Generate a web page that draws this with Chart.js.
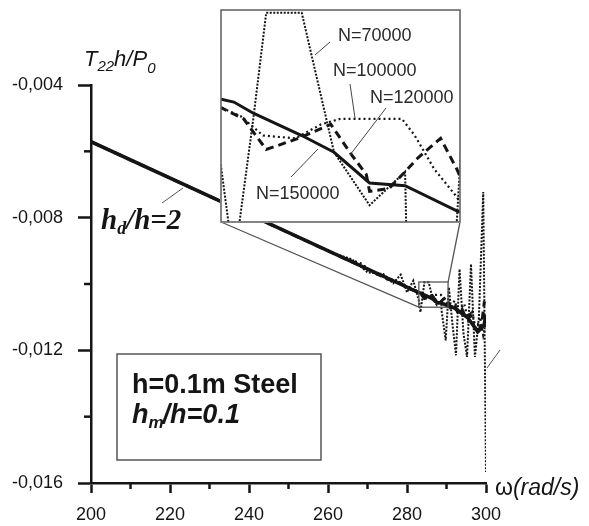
<!DOCTYPE html>
<html>
<head>
<meta charset="utf-8">
<script src="https://cdn.jsdelivr.net/npm/chart.js@4.4.0/dist/chart.umd.min.js"></script>
<style>
  html, body { margin: 0; padding: 0; background: #fff; }
  #wrap { position: relative; width: 589px; height: 526px; }
  #main { position: absolute; left: 0; top: 0; }
  #inset { position: absolute; left: 220px; top: 9px; background: #fff; }
</style>
</head>
<body>
<div id="wrap">
  <canvas id="main" width="589" height="526"></canvas>
  <canvas id="inset" width="241" height="214"></canvas>
</div>
<script>
  // axis ticks
  var xTicks = [200, 220, 240, 260, 280, 300];
  var xMinorTicks = [210, 230, 250, 270, 290];
  var yTicks = [-0.016, -0.012, -0.008, -0.004];
  var yMinorTicks = [-0.014, -0.010, -0.006];

  // zoomed window shown in the inset
  var insetOmega = [283, 290.4];
  var insetT = [-0.0107, -0.00994];

  // N=150000 (solid)
  var omega150 = [200, 240, 283, 283.4, 284, 284.75, 285.5, 286.5, 287.6, 288.7, 290.3, 291.9, 295.4, 297.9, 299.5, 300];
  var t150 = [-0.00571, -0.00790, -0.01026, -0.01027, -0.01031, -0.01035, -0.01039, -0.01045, -0.01056, -0.01057,
              -0.01066, -0.01072, -0.01102, -0.01144, -0.01124, -0.01093];

  // N=120000 (dashed)
  var omega120 = [200, 270, 275, 278, 280, 282, 283, 283.7, 284.4, 285.4, 286.4, 287.05, 287.5, 287.6, 288.2, 288.7,
                  289.1, 289.8, 290.3, 291, 292, 293, 294, 295, 296, 297, 298, 299, 299.6];
  var t120 = [-0.00571, -0.00955, -0.00985, -0.00995, -0.01012, -0.01020, -0.01029, -0.01033, -0.01044, -0.01040,
              -0.01035, -0.01046, -0.01053, -0.01059, -0.01058, -0.01052, -0.01047, -0.01040, -0.01051, -0.01070,
              -0.01060, -0.01090, -0.01078, -0.01105, -0.01092, -0.01128, -0.01148, -0.01112, -0.01052];

  // N=100000 (fine dots)
  var omega100 = [200, 265, 268, 272, 276, 279, 281, 283, 283.6, 284.3, 285.3, 286.1, 286.7, 288.6, 289, 289.6,
                  290.3, 291, 292, 293, 294.5, 295.5, 296.5, 297.5, 298.5, 299.3, 300];
  var t100 = [-0.00571, -0.00927, -0.00935, -0.00970, -0.00985, -0.01000, -0.01016, -0.01029, -0.01032, -0.01039,
              -0.01040, -0.01035, -0.01033, -0.01033, -0.01039, -0.01051, -0.01061, -0.01075, -0.01050, -0.01085,
              -0.01060, -0.01110, -0.01085, -0.01140, -0.01100, -0.01155, -0.01120];

  // N=70000 (dense dots)
  var omega70 = [200, 262, 266, 270, 274, 276.5, 278.4, 280, 281.6, 283, 283.4, 284, 284.4, 285.5, 286.5, 287.6,
                 288.7, 288.75, 289.8, 290.6, 291.5, 292.4, 293.3, 294.3, 295.2, 296.2, 297.2, 298.2, 299.3, 300];
  var t70 = [-0.00571, -0.00910, -0.00925, -0.00965, -0.00970, -0.00998, -0.00972, -0.01025, -0.00990, -0.01050,
             -0.01085, -0.01033, -0.00995, -0.00995, -0.01045, -0.01064, -0.01052, -0.01080, -0.01170, -0.01010,
             -0.01120, -0.01215, -0.00955, -0.01150, -0.01220, -0.00940, -0.01220, -0.01100, -0.00723, -0.01567];

  var SANS = '"Liberation Sans", Arial, sans-serif';
  var SERIF = '"Liberation Serif", "Times New Roman", serif';
  var INK = '#151515';

  function pts(xs, ys) {
    return xs.map(function (x, i) { return { x: x, y: ys[i] }; });
  }

  function makeDatasets(scale) {
    return [
      { label: 'N=150000', data: pts(omega150, t150), borderColor: INK, borderWidth: 3.5 * scale, borderDash: [] },
      { label: 'N=120000', data: pts(omega120, t120), borderColor: INK, borderWidth: 3, borderDash: [8, 5] },
      { label: 'N=100000', data: pts(omega100, t100), borderColor: INK, borderWidth: 2.2, borderDash: [2, 3] },
      { label: 'N=70000', data: pts(omega70, t70), borderColor: INK, borderWidth: 2, borderDash: [2, 1.5] }
    ].map(function (d) {
      d.showLine = true;
      d.pointRadius = 0;
      d.tension = 0;
      d.fill = false;
      return d;
    });
  }

  function richText(ctx, parts, x, y) {
    parts.forEach(function (p) {
      ctx.font = p.font;
      ctx.fillText(p.text, x, y + (p.dy || 0));
      x += ctx.measureText(p.text).width + (p.gap || 0);
    });
  }

  var mainDecor = {
    id: 'mainDecor',
    afterDraw: function (chart) {
      var ctx = chart.ctx, xs = chart.scales.x, ys = chart.scales.y;
      ctx.save();
      ctx.strokeStyle = INK;
      ctx.lineWidth = 2.5;
      xMinorTicks.forEach(function (v) {
        var px = xs.getPixelForValue(v);
        ctx.beginPath(); ctx.moveTo(px, ys.bottom); ctx.lineTo(px, ys.bottom + 6); ctx.stroke();
      });
      yMinorTicks.forEach(function (v) {
        var py = ys.getPixelForValue(v);
        ctx.beginPath(); ctx.moveTo(xs.left - 7, py); ctx.lineTo(xs.left + 1, py); ctx.stroke();
      });

      // zoom rectangle and connectors to the inset
      var rx0 = xs.getPixelForValue(insetOmega[0]), rx1 = xs.getPixelForValue(insetOmega[1]);
      var ry0 = ys.getPixelForValue(insetT[1]), ry1 = ys.getPixelForValue(insetT[0]);
      ctx.strokeStyle = '#555';
      ctx.lineWidth = 1.3;
      ctx.strokeRect(rx0, ry0, rx1 - rx0, ry1 - ry0);
      ctx.beginPath();
      ctx.moveTo(221, 222); ctx.lineTo(rx0, ry1);
      ctx.moveTo(460, 222); ctx.lineTo(rx1, ry0);
      ctx.stroke();

      // leader lines
      ctx.lineWidth = 1;
      ctx.beginPath();
      ctx.moveTo(162, 203); ctx.lineTo(183, 188);
      ctx.moveTo(487, 368); ctx.lineTo(500, 350);
      ctx.stroke();

      ctx.fillStyle = INK;
      ctx.textBaseline = 'alphabetic';
      ctx.textAlign = 'left';

      // y title
      richText(ctx, [
        { text: 'T', font: 'italic 22px ' + SANS },
        { text: '22', font: 'italic 15px ' + SANS, dy: 5 },
        { text: 'h/P', font: 'italic 22px ' + SANS },
        { text: '0', font: 'italic 15px ' + SANS, dy: 7 }
      ], 84, 66);

      // x title
      richText(ctx, [
        { text: '\u03c9', font: '23px ' + SANS },
        { text: '(rad/s)', font: 'italic 23px ' + SANS }
      ], 495, 495);

      // hd/h=2
      richText(ctx, [
        { text: 'h', font: 'italic bold 29px ' + SERIF },
        { text: 'd', font: 'italic bold 18px ' + SERIF, dy: 5 },
        { text: '/h=2', font: 'italic bold 29px ' + SERIF }
      ], 101, 229);

      // note box
      ctx.strokeStyle = '#555';
      ctx.lineWidth = 1.5;
      ctx.strokeRect(117, 354, 204, 106);
      ctx.font = 'bold 27px ' + SANS;
      ctx.fillText('h=0.1m Steel', 132, 393);
      richText(ctx, [
        { text: 'h', font: 'italic bold 27px ' + SANS },
        { text: 'm', font: 'italic bold 17px ' + SANS, dy: 5, gap: -1 },
        { text: '/h=0.1', font: 'italic bold 27px ' + SANS }
      ], 132, 423);
      ctx.restore();
    }
  };

  new Chart(document.getElementById('main').getContext('2d'), {
    type: 'scatter',
    data: { datasets: makeDatasets(1) },
    options: {
      responsive: false,
      animation: false,
      devicePixelRatio: 1,
      layout: { padding: { left: 0, top: 85, right: 103, bottom: 0 } },
      plugins: { legend: { display: false }, tooltip: { enabled: false } },
      scales: {
        x: {
          type: 'linear', min: 200, max: 300,
          afterFit: function (s) { s.height = 43; },
          afterBuildTicks: function (s) { s.ticks = xTicks.map(function (v) { return { value: v }; }); },
          border: { display: true, color: INK, width: 2.5 },
          grid: { drawOnChartArea: false, drawTicks: true, tickLength: 10, tickWidth: 2.5, tickColor: INK },
          ticks: { color: INK, padding: 11, maxRotation: 0, font: { family: SANS, size: 18 },
                   callback: function (v) { return String(v); } }
        },
        y: {
          type: 'linear', min: -0.016, max: -0.004,
          afterFit: function (s) { s.width = 91; },
          afterBuildTicks: function (s) { s.ticks = yTicks.map(function (v) { return { value: v }; }); },
          border: { display: true, color: INK, width: 2.5 },
          grid: { drawOnChartArea: false, drawTicks: true, tickLength: 13, tickWidth: 2.5, tickColor: INK },
          ticks: { color: INK, padding: 15, font: { family: SANS, size: 18 },
                   callback: function (v) { return v.toFixed(3).replace('.', ','); } }
        }
      }
    },
    plugins: [mainDecor]
  });

  var insetDecor = {
    id: 'insetDecor',
    afterDraw: function (chart) {
      var ctx = chart.ctx;
      ctx.save();
      ctx.strokeStyle = '#666';
      ctx.lineWidth = 1.6;
      ctx.strokeRect(1, 1, chart.width - 2, chart.height - 2);
      ctx.strokeStyle = '#444';
      ctx.lineWidth = 1;
      ctx.beginPath();
      ctx.moveTo(110, 33); ctx.lineTo(95, 46);
      ctx.moveTo(130, 75); ctx.lineTo(135, 109);
      ctx.moveTo(166, 99); ctx.lineTo(130, 146);
      ctx.moveTo(71, 168); ctx.lineTo(98, 140);
      ctx.stroke();
      ctx.fillStyle = '#2a2a2a';
      ctx.font = '18px ' + SANS;
      ctx.fillText('N=70000', 118, 32);
      ctx.fillText('N=100000', 113, 67);
      ctx.fillText('N=120000', 150, 94);
      ctx.fillText('N=150000', 36, 190);
      ctx.restore();
    }
  };

  new Chart(document.getElementById('inset').getContext('2d'), {
    type: 'scatter',
    data: { datasets: makeDatasets(0.85) },
    options: {
      responsive: false,
      animation: false,
      devicePixelRatio: 1,
      layout: { padding: 1 },
      plugins: { legend: { display: false }, tooltip: { enabled: false } },
      scales: {
        x: { type: 'linear', display: false, min: insetOmega[0], max: insetOmega[1] },
        y: { type: 'linear', display: false, min: insetT[0], max: insetT[1] }
      }
    },
    plugins: [insetDecor]
  });
</script>
</body>
</html>
